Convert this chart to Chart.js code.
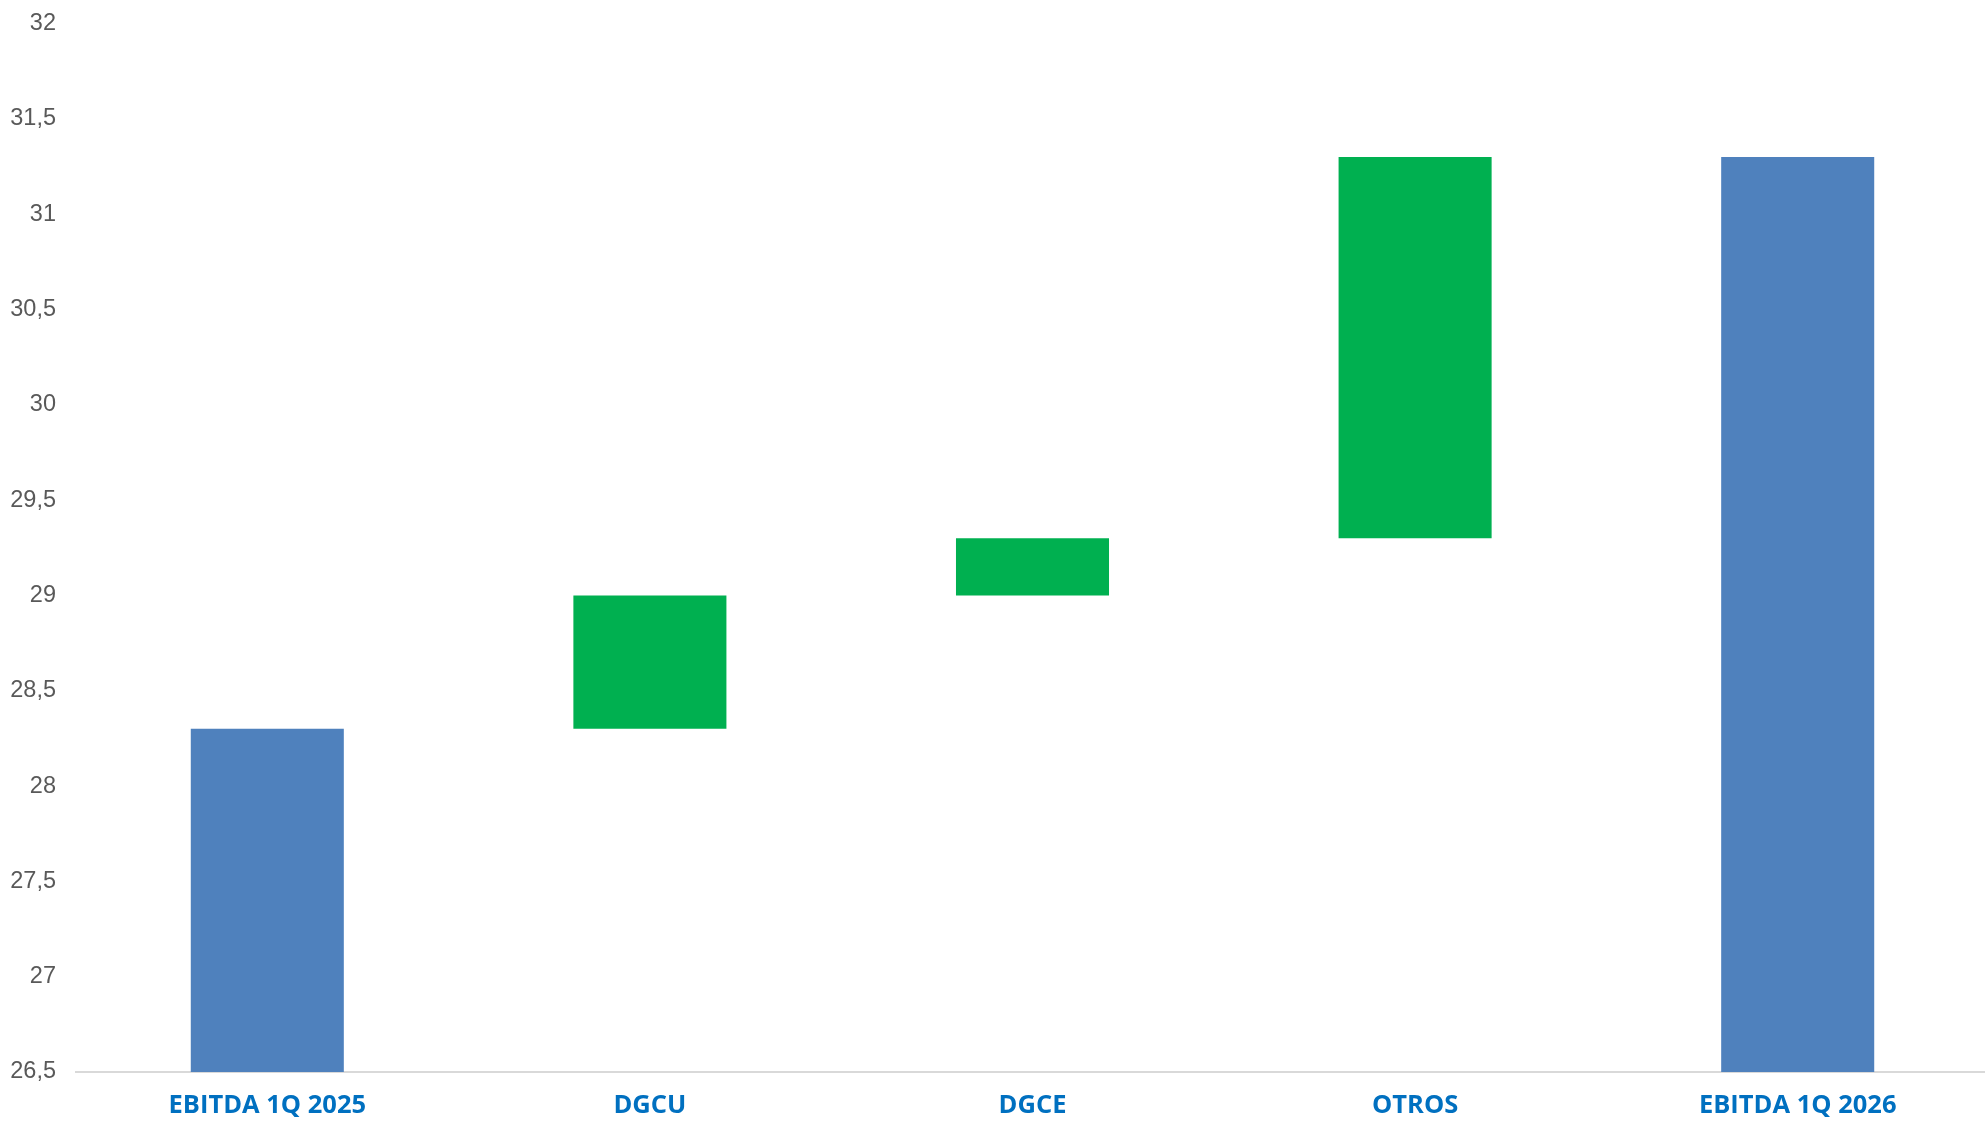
<!DOCTYPE html>
<html>
<head>
<meta charset="utf-8">
<script src="https://cdn.jsdelivr.net/npm/chart.js@4.4.0/dist/chart.umd.min.js"></script>
<style>
    html, body { margin: 0; padding: 0; background: #ffffff; overflow: hidden; }
    #wrap { width: 1989px; height: 1123px; }
</style>
</head>
<body>
<div id="wrap"><canvas id="bridgeChart"></canvas></div>
<script>
// EBITDA bridge, values
var categories = ['EBITDA 1Q 2025', 'DGCU', 'DGCE', 'OTROS', 'EBITDA 1Q 2026'];
var barStart = [26.5, 28.3, 29.0, 29.3, 26.5];
var barEnd = [28.3, 29.0, 29.3, 31.3, 31.3];
var barColors = ['#4F81BD', '#00B050', '#00B050', '#00B050', '#4F81BD'];
var yMin = 26.5;
var yMax = 32;
var yStep = 0.5;

var ranges = categories.map(function(c, i) {
    return [barStart[i], barEnd[i]];
});

var ctx = document.getElementById('bridgeChart').getContext('2d');
var chart = new Chart(ctx, {
    type: 'bar',
    data: {
        labels: categories,
        datasets: [{
            data: ranges,
            backgroundColor: barColors,
            borderWidth: 0,
            borderSkipped: false,
            categoryPercentage: 1,
            barPercentage: 0.4
        }]
    },
    options: {
        responsive: true,
        maintainAspectRatio: false,
        animation: false,
        layout: {
            padding: { top: 23.5, left: 0, right: 0, bottom: 0 }
        },
        plugins: {
            legend: { display: false },
            tooltip: { enabled: false }
        },
        scales: {
            x: {
                grid: { display: false, drawTicks: false },
                border: { display: true, color: '#D9D9D9', width: 2 },
                ticks: {
                    color: '#0070C0',
                    padding: 18,
                    maxRotation: 0,
                    font: { family: 'Open Sans', weight: 'bold', size: 25.5 }
                },
                afterFit: function(scale) {
                    scale.height = 51;
                }
            },
            y: {
                min: yMin,
                max: yMax,
                grid: { display: false, drawTicks: false },
                border: { display: false },
                ticks: {
                    stepSize: yStep,
                    color: '#595959',
                    padding: 20,
                    font: { family: 'Liberation Sans', size: 23.5 },
                    callback: function(value) {
                        return String(value).replace('.', ',');
                    }
                },
                afterFit: function(scale) {
                    scale.width = 76;
                    // the tick padding should not push the plot top down
                    scale.paddingTop = 0;
                    scale.paddingBottom = 0;
                }
            }
        }
    }
});
</script>
</body>
</html>
